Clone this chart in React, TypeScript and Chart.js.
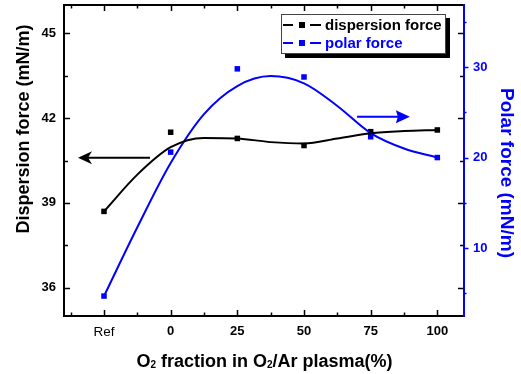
import React, { useEffect, useRef } from 'react';
import { Chart, registerables } from 'chart.js';

Chart.register(...registerables);

// Categories (Ref is placed one step left of 0 on the x axis)
const categories = ['Ref', '0', '25', '50', '75', '100'];
const categoryX = [-25, 0, 25, 50, 75, 100];

// Measured points
const dispersionForce = [38.7, 41.5, 41.28, 41.03, 41.52, 41.58];
const polarForce = [4.7, 20.6, 29.8, 28.9, 22.3, 20.0];

// Smoothed fit curves
const fitX = [-25, -12.5, 0, 12.5, 25, 37.5, 50, 62.5, 75, 87.5, 100];
const dispersionFit = [38.7, 40.0, 40.97, 41.3, 41.28, 41.15, 41.1, 41.28, 41.46, 41.54, 41.58];
const polarFit = [4.7, 12.3, 19.4, 24.8, 27.9, 29.0, 28.2, 25.7, 22.7, 21.0, 20.0];

// Tick values
const xMajor = [-25, 0, 25, 50, 75, 100];
const xMinor = [-37.5, -12.5, 12.5, 37.5, 62.5, 87.5];
const yMajor = [36, 39, 42, 45];
const yMinor = [37.5, 40.5, 43.5];
const y2Major = [10, 20, 30];
const y2Minor = [5, 15, 25, 35];

const BLUE = '#0000ff';
const FONT = '"Liberation Sans", Arial, sans-serif';

const decorPlugin = {
  id: 'decor',
  afterDraw(chart: any) {
    const ctx = chart.ctx as CanvasRenderingContext2D;
    const { left, right, top, bottom } = chart.chartArea;
    const xs = chart.scales.x;
    const ys = chart.scales.y;
    const y2 = chart.scales.y2;
    ctx.save();
    const line = (x0: number, y0: number, x1: number, y1: number) => {
      ctx.beginPath();
      ctx.moveTo(x0, y0);
      ctx.lineTo(x1, y1);
      ctx.stroke();
    };
    // tick marks
    ctx.lineWidth = 1.5;
    ctx.strokeStyle = '#000';
    xMajor.forEach((v) => {
      const p = Math.round(xs.getPixelForValue(v)) + 0.5;
      line(p, bottom, p, bottom - 6);
      line(p, top, p, top + 6);
    });
    xMinor.forEach((v) => {
      const p = Math.round(xs.getPixelForValue(v)) + 0.5;
      line(p, bottom, p, bottom - 3.5);
      line(p, top, p, top + 3.5);
    });
    yMajor.forEach((v) => {
      const p = Math.round(ys.getPixelForValue(v)) + 0.5;
      line(left, p, left + 6, p);
      line(right, p, right - 6, p);
    });
    yMinor.forEach((v) => {
      const p = Math.round(ys.getPixelForValue(v)) + 0.5;
      line(left, p, left + 4, p);
      line(right, p, right - 4, p);
    });
    ctx.strokeStyle = BLUE;
    y2Major.forEach((v) => {
      const p = Math.round(y2.getPixelForValue(v)) + 0.5;
      line(right, p, right + 4.5, p);
    });
    y2Minor.forEach((v) => {
      const p = Math.round(y2.getPixelForValue(v)) + 0.5;
      line(right, p, right + 2.5, p);
    });
    // frame
    ctx.lineWidth = 2;
    ctx.strokeStyle = '#000';
    line(left - 1, top, right, top);
    line(left, top, left, bottom + 1);
    line(left - 1, bottom, right, bottom);
    ctx.strokeStyle = BLUE;
    line(right, top - 1, right, bottom + 1);

    // arrows
    const drawArrow = (scale: any, x0: number, x1: number, yv: number, color: string, notch: number) => {
      const py = scale.getPixelForValue(yv);
      const p0 = xs.getPixelForValue(x0);
      const p1 = xs.getPixelForValue(x1);
      const dir = p1 > p0 ? 1 : -1;
      ctx.strokeStyle = color;
      ctx.fillStyle = color;
      ctx.lineWidth = 2;
      line(p0, py, p1 - dir * 8, py);
      ctx.beginPath();
      ctx.moveTo(p1, py);
      ctx.lineTo(p1 - dir * 14, py - 6.5);
      ctx.lineTo(p1 - dir * notch, py);
      ctx.lineTo(p1 - dir * 14, py + 6.5);
      ctx.closePath();
      ctx.fill();
    };
    drawArrow(ys, -7.75, -34.75, 40.6, '#000', 10);
    drawArrow(y2, 69.9, 89.7, 24.5, BLUE, 12);

    // legend
    const bx = 281, by = 14, bw = 165, bh = 40;
    ctx.fillStyle = '#000';
    ctx.fillRect(bx + 4, by + 4, bw, bh);
    ctx.fillStyle = '#fff';
    ctx.fillRect(bx, by, bw, bh);
    ctx.strokeStyle = '#444';
    ctx.lineWidth = 1;
    ctx.strokeRect(bx + 0.5, by + 0.5, bw - 1, bh - 1);
    const rows = [
      { label: 'dispersion force', color: '#000', y: 25 },
      { label: 'polar force', color: BLUE, y: 43 },
    ];
    rows.forEach((r) => {
      ctx.strokeStyle = r.color;
      ctx.fillStyle = r.color;
      ctx.lineWidth = 2;
      line(283, r.y, 293, r.y);
      line(310, r.y, 321, r.y);
      ctx.fillRect(299, r.y - 3, 6, 6);
      ctx.font = `bold 15px ${FONT}`;
      ctx.textAlign = 'left';
      ctx.textBaseline = 'middle';
      ctx.fillText(r.label, 325, r.y + 0.5);
    });

    // axis titles
    ctx.fillStyle = '#000';
    ctx.font = `bold 18px ${FONT}`;
    ctx.textAlign = 'center';
    ctx.textBaseline = 'middle';
    ctx.save();
    ctx.translate(24, 129);
    ctx.rotate(-Math.PI / 2);
    ctx.fillText('Dispersion force (mN/m)', 0, 0);
    ctx.restore();

    ctx.fillStyle = BLUE;
    ctx.font = `bold 19px ${FONT}`;
    ctx.save();
    ctx.translate(506, 173);
    ctx.rotate(Math.PI / 2);
    ctx.fillText('Polar force (mN/m)', 0, 0);
    ctx.restore();

    // x title with subscripts
    ctx.fillStyle = '#000';
    ctx.textAlign = 'left';
    ctx.textBaseline = 'alphabetic';
    const segs = [
      { t: 'O', sub: false },
      { t: '2', sub: true },
      { t: ' fraction in O', sub: false },
      { t: '2', sub: true },
      { t: '/Ar plasma(%)', sub: false },
    ];
    const fontFor = (sub: boolean) => (sub ? `bold 10px ${FONT}` : `bold 18px ${FONT}`);
    let total = 0;
    segs.forEach((s) => {
      ctx.font = fontFor(s.sub);
      total += ctx.measureText(s.t).width;
    });
    let cx = 264.5 - total / 2;
    const base = 367;
    segs.forEach((s) => {
      ctx.font = fontFor(s.sub);
      ctx.fillText(s.t, cx, s.sub ? base + 1 : base);
      cx += ctx.measureText(s.t).width;
    });
    ctx.restore();
  },
};

const fixTicks = (values: number[]) => (s: any) => {
  s.ticks = values.map((value) => ({ value }));
};

export default function App() {
  const ref = useRef<HTMLCanvasElement | null>(null);
  useEffect(() => {
    if (!ref.current) return;
    const chart = new Chart(ref.current, {
      type: 'line',
      data: {
        datasets: [
          {
            label: 'dispersion force fit',
            data: fitX.map((x, i) => ({ x, y: dispersionFit[i] })),
            yAxisID: 'y',
            borderColor: '#000',
            borderWidth: 2,
            pointRadius: 0,
            cubicInterpolationMode: 'monotone',
            fill: false,
          },
          {
            label: 'polar force fit',
            data: fitX.map((x, i) => ({ x, y: polarFit[i] })),
            yAxisID: 'y2',
            borderColor: BLUE,
            borderWidth: 2,
            pointRadius: 0,
            cubicInterpolationMode: 'monotone',
            fill: false,
          },
          {
            label: 'dispersion force',
            data: categoryX.map((x, i) => ({ x, y: dispersionForce[i] })),
            yAxisID: 'y',
            showLine: false,
            pointStyle: 'rect',
            pointRadius: 3.9,
            pointBorderWidth: 0,
            pointBackgroundColor: '#000',
            borderColor: '#000',
          },
          {
            label: 'polar force',
            data: categoryX.map((x, i) => ({ x, y: polarForce[i] })),
            yAxisID: 'y2',
            showLine: false,
            pointStyle: 'rect',
            pointRadius: 3.9,
            pointBorderWidth: 0,
            pointBackgroundColor: BLUE,
            borderColor: BLUE,
          },
        ],
      },
      options: {
        responsive: false,
        animation: false,
        layout: { padding: { top: 5, left: 0, right: 0, bottom: 0 } },
        plugins: { legend: { display: false }, tooltip: { enabled: false } },
        scales: {
          x: {
            type: 'linear',
            position: 'bottom',
            min: -40,
            max: 110,
            afterBuildTicks: fixTicks(xMajor),
            afterFit: (s: any) => {
              s.height = 58;
              s.paddingLeft = 0;
              s.paddingRight = 0;
            },
            grid: { display: false, drawTicks: false },
            border: { display: false },
            ticks: {
              autoSkip: false,
              maxRotation: 0,
              padding: 8,
              color: '#000',
              font: (c: any) =>
                c.tick && c.tick.value === -25
                  ? { family: FONT, size: 13.5, weight: 'normal' }
                  : { family: FONT, size: 13, weight: 'bold' },
              callback: (v: any) => {
                const i = categoryX.indexOf(Number(v));
                return i >= 0 ? categories[i] : '';
              },
            },
          },
          y: {
            type: 'linear',
            position: 'left',
            min: 35,
            max: 46,
            afterBuildTicks: fixTicks(yMajor),
            afterFit: (s: any) => {
              s.width = 64;
              s.paddingTop = 0;
              s.paddingBottom = 0;
            },
            grid: { display: false, drawTicks: false },
            border: { display: false },
            ticks: {
              padding: 8,
              color: '#000',
              font: { family: FONT, size: 13, weight: 'bold' },
            },
          },
          y2: {
            type: 'linear',
            position: 'right',
            min: 2.5,
            max: 36.85,
            afterBuildTicks: fixTicks(y2Major),
            afterFit: (s: any) => {
              s.width = 57;
              s.paddingTop = 0;
              s.paddingBottom = 0;
            },
            grid: { display: false, drawTicks: false },
            border: { display: false },
            ticks: {
              padding: 9,
              color: BLUE,
              font: { family: FONT, size: 13, weight: 'bold' },
            },
          },
        },
      },
      plugins: [decorPlugin],
    } as any);
    return () => chart.destroy();
  }, []);
  return (
    <div style={{ position: 'absolute', left: 0, top: 0, width: 521, height: 374, background: '#fff' }}>
      <canvas ref={ref} width={521} height={374} />
    </div>
  );
}
